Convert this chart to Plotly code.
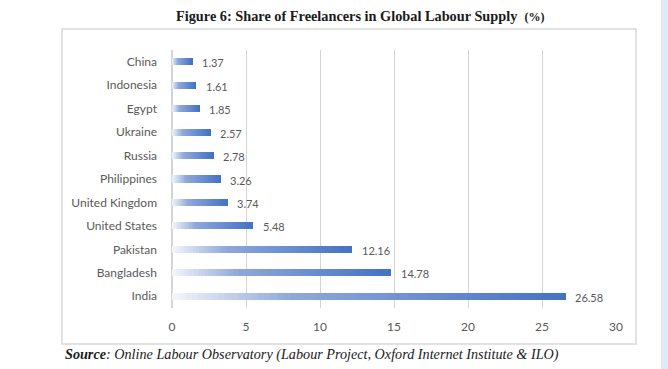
import plotly.graph_objects as go

countries = ["China", "Indonesia", "Egypt", "Ukraine", "Russia", "Philippines",
             "United Kingdom", "United States", "Pakistan", "Bangladesh", "India"]
shares = [1.37, 1.61, 1.85, 2.57, 2.78, 3.26, 3.74, 5.48, 12.16, 14.78, 26.58]
x_ticks = [0, 5, 10, 15, 20, 25, 30]

N_SEG = 60
stops = [(0.0, (244, 246, 252)), (0.3, (143, 168, 219)), (1.0, (68, 114, 196))]


def grad(t):
    for (t0, c0), (t1, c1) in zip(stops[:-1], stops[1:]):
        if t <= t1:
            f = (t - t0) / (t1 - t0)
            return "rgb(%d,%d,%d)" % tuple(round(a + (b - a) * f) for a, b in zip(c0, c1))
    return "rgb(%d,%d,%d)" % stops[-1][1]


fig = go.Figure()
for k in range(N_SEG):
    fig.add_trace(go.Bar(
        y=countries,
        x=[v / N_SEG * 1.02 for v in shares],
        base=[v * k / N_SEG for v in shares],
        orientation="h",
        marker=dict(color=grad((k + 0.5) / N_SEG), line=dict(width=0)),
        width=0.3,
        showlegend=False,
        hoverinfo="skip",
    ))

for c, v in zip(countries, shares):
    fig.add_annotation(x=v, y=c, text=f"{v:.2f}", showarrow=False,
                       xanchor="left", xshift=8, yshift=-1,
                       font=dict(family="Lato, Open Sans, sans-serif", size=11, color="#595959"))

W, H = 668, 369
L, R, T, B = 172, 52, 50, 61
pw, ph = W - L - R, H - T - B


def px(xp):
    return (xp - L) / pw


def py(yp):
    return (H - B - yp) / ph


# outer frame
fig.add_shape(type="rect", xref="paper", yref="paper",
              x0=px(62), x1=px(636), y0=py(344), y1=py(29),
              line=dict(color="#D9D9D9", width=1.5), layer="below")
# right-edge page stripe
fig.add_shape(type="rect", xref="paper", yref="paper",
              x0=px(661), x1=px(669), y0=py(370), y1=py(-1),
              line=dict(width=0), fillcolor="#DDEAF8", layer="below")

fig.add_annotation(xref="paper", yref="paper", x=px(360), y=py(16),
                   xanchor="center", yanchor="middle", showarrow=False,
                   text="<b>Figure 6: Share of Freelancers in Global Labour Supply</b>&nbsp;&nbsp;<span style='font-size:12px'><b>(%)</b></span>",
                   font=dict(family="Liberation Serif, DejaVu Serif, serif", size=14.3, color="#1a1a1a"))

fig.add_annotation(xref="paper", yref="paper", x=px(63), y=py(354),
                   xanchor="left", yanchor="middle", showarrow=False,
                   text="<b><i>Source</i></b><i>: Online Labour Observatory (Labour Project, Oxford Internet Institute &amp; ILO)</i>",
                   font=dict(family="Liberation Serif, DejaVu Serif, serif", size=14.2, color="#1a1a1a"))

fig.update_layout(
    width=W, height=H,
    margin=dict(l=L, r=R, t=T, b=B),
    paper_bgcolor="white", plot_bgcolor="white",
    barmode="overlay",
    bargap=0,
    font=dict(family="Lato, Open Sans, sans-serif", color="#595959"),
)
fig.update_xaxes(range=[0, 30], tickvals=x_ticks, showgrid=True, gridcolor="#D4D4D4",
                 gridwidth=1, zeroline=True, zerolinecolor="#D4D4D4", zerolinewidth=2,
                 showline=False, ticks="", tickfont=dict(size=12, color="#595959"),
                 ticklabelstandoff=10, fixedrange=True)
fig.update_yaxes(autorange="reversed", showgrid=False, zeroline=False, showline=False,
                 ticks="", tickfont=dict(size=12, color="#595959"),
                 ticklabelstandoff=14, fixedrange=True)

fig.write_html("out.html")
